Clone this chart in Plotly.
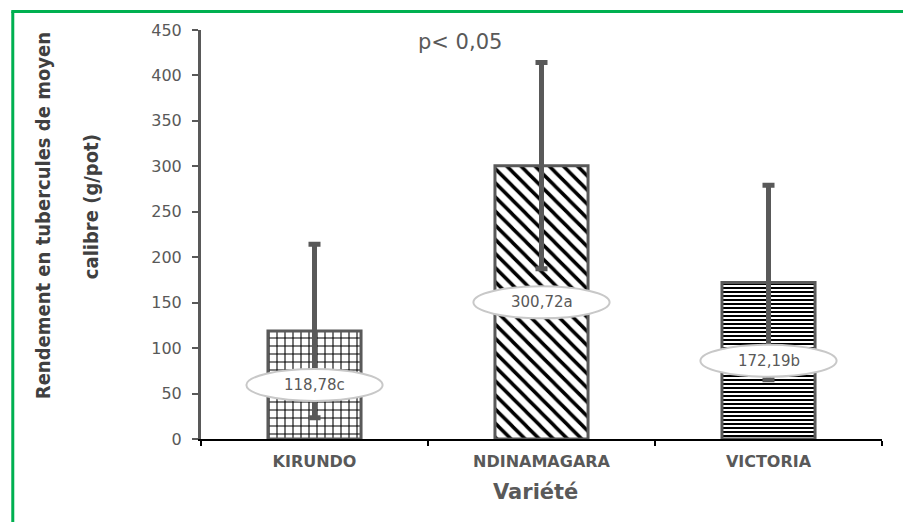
import plotly.graph_objects as go

# Data
varietes = ["KIRUNDO", "NDINAMAGARA", "VICTORIA"]
rendement = [118.78, 300.72, 172.19]
ecart = [95.5, 113.5, 107.0]
lettres = ["c", "a", "b"]
y_ticks = [0, 50, 100, 150, 200, 250, 300, 350, 400, 450]

GRAY = "#595959"
patterns = [
    dict(shape="+", size=8, solidity=0.25, fgcolor="black", bgcolor="white", fillmode="replace"),
    dict(shape="\\", size=10, solidity=0.35, fgcolor="black", bgcolor="white", fillmode="replace"),
    dict(shape="-", size=4, solidity=0.5, fgcolor="black", bgcolor="white", fillmode="replace"),
]

fig = go.Figure()
for i, (v, m, e) in enumerate(zip(varietes, rendement, ecart)):
    fig.add_trace(go.Bar(
        x=[v], y=[m], width=0.41,
        marker=dict(color="white", pattern=patterns[i], line=dict(color=GRAY, width=3)),
        error_y=dict(type="data", array=[e], symmetric=True, color=GRAY, thickness=5, width=6),
        showlegend=False, hoverinfo="skip",
    ))

# Value labels in white ellipses at mid-height of each bar
ell_w = 0.6    # category units
ell_h = 17.6   # half-height, data units
for i, (m, l) in enumerate(zip(rendement, lettres)):
    yc = m / 2
    fig.add_shape(type="circle", xref="x", yref="y",
                  x0=i - ell_w / 2, x1=i + ell_w / 2, y0=yc - ell_h, y1=yc + ell_h,
                  fillcolor="white", line=dict(color="#c8c8c8", width=2), layer="above")
    fig.add_annotation(x=i, y=yc, xref="x", yref="y",
                       text=f"{m:.2f}".replace(".", ",") + l, showarrow=False,
                       font=dict(family="DejaVu Sans", size=15, color=GRAY))

# Significance note
fig.add_annotation(x=0.38, y=0.9707, xref="paper", yref="paper", text="p< 0,05",
                   showarrow=False, xanchor="center", yanchor="middle",
                   font=dict(family="DejaVu Sans", size=21, color=GRAY))

# Y axis title in two lines
ytitle_font = dict(family="DejaVu Sans Condensed, Liberation Sans Narrow, sans-serif",
                   size=20, color="#404040", weight="bold")
fig.add_annotation(x=(42 - 200) / 682, y=(439 - 216) / 409, xref="paper", yref="paper",
                   text="Rendement en tubercules de moyen", textangle=-90, showarrow=False,
                   xanchor="center", yanchor="middle", font=ytitle_font)
fig.add_annotation(x=(90 - 200) / 682, y=(439 - 207) / 409, xref="paper", yref="paper",
                   text="calibre (g/pot)", textangle=-90, showarrow=False,
                   xanchor="center", yanchor="middle", font=ytitle_font)

# X axis title
fig.add_annotation(x=(535 - 200) / 682, y=(439 - 492) / 409, xref="paper", yref="paper",
                   text="<b>Variété</b>", showarrow=False, xanchor="center", yanchor="middle",
                   font=dict(family="DejaVu Sans", size=21, color=GRAY))

# Green frame
frame = dict(color="#00b050", width=3)
fig.add_shape(type="line", xref="paper", yref="paper",
              x0=(11.5 - 200) / 682, x1=(11.5 - 200) / 682,
              y0=(439 - 11.5) / 409, y1=(439 - 530) / 409, line=frame, layer="above")
fig.add_shape(type="line", xref="paper", yref="paper",
              x0=(10 - 200) / 682, x1=(910 - 200) / 682,
              y0=(439 - 11.5) / 409, y1=(439 - 11.5) / 409, line=frame, layer="above")

fig.update_layout(
    width=903, height=522,
    margin=dict(l=201, r=21, t=30, b=83),
    paper_bgcolor="white", plot_bgcolor="white",
    bargap=0.59,
    xaxis=dict(
        type="category", showline=True, linecolor="black", linewidth=2,
        ticks="outside", tickson="boundaries", ticklen=5, tickcolor="black", tickwidth=2,
        tickfont=dict(family="DejaVu Sans", size=16, color=GRAY, weight="bold"),
        ticklabelstandoff=7,
        showgrid=False, zeroline=False, fixedrange=True,
    ),
    yaxis=dict(
        range=[0, 450], tickvals=y_ticks, showline=True, linecolor=GRAY, linewidth=3,
        ticks="outside", ticklen=6, tickcolor=GRAY, tickwidth=2,
        tickfont=dict(family="DejaVu Sans", size=16, color=GRAY),
        ticklabelstandoff=7,
        showgrid=False, zeroline=False, fixedrange=True,
    ),
)

fig.write_html("out.html")
